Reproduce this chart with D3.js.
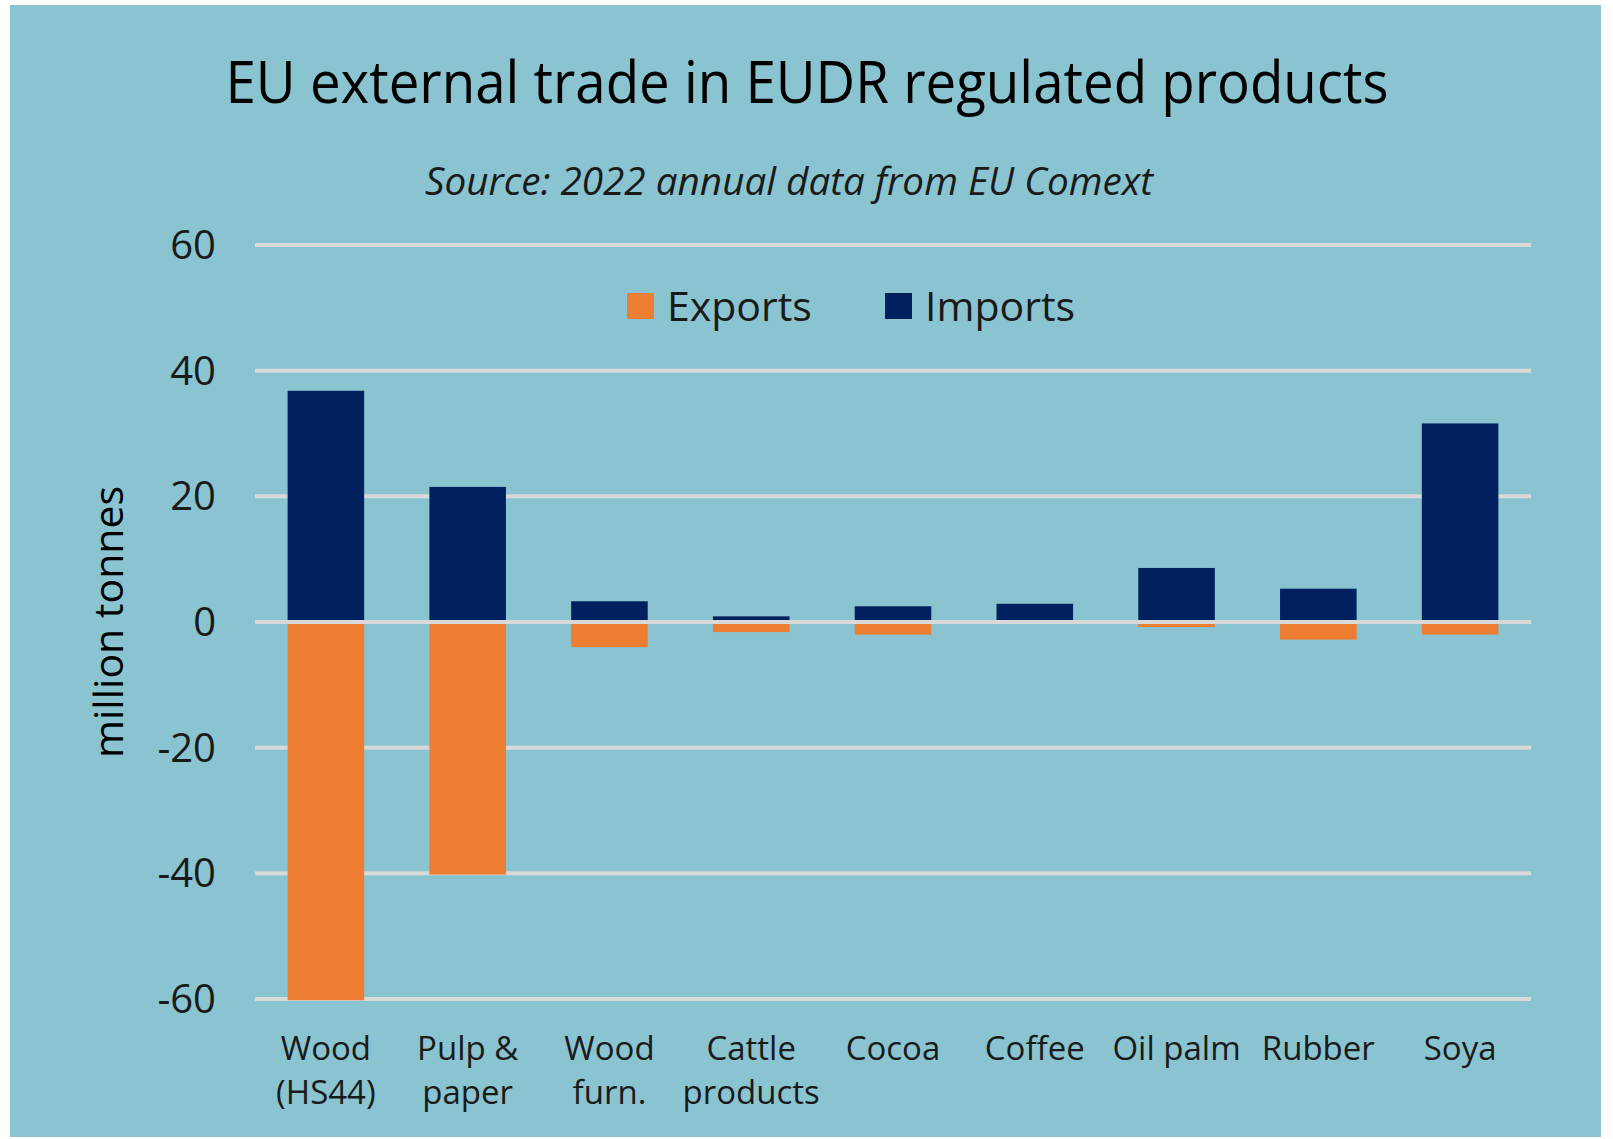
<!DOCTYPE html>
<html><head><meta charset="utf-8">
<script src="https://cdn.jsdelivr.net/npm/d3@7"></script>
<style>
html,body{margin:0;padding:0;background:#fff;}
svg{display:block;}
</style></head>
<body>
<script>
const categories = [["Wood","(HS44)"],["Pulp &","paper"],["Wood","furn."],["Cattle","products"],["Cocoa"],["Coffee"],["Oil palm"],["Rubber"],["Soya"]];
const imports = [36.8, 21.5, 3.3, 0.9, 2.5, 2.9, 8.6, 5.3, 31.6];
const exports = [-60.2, -40.2, -4.0, -1.6, -2.0, 0, -0.8, -2.8, -2.0];
const yTicks = [60, 40, 20, 0, -20, -40, -60];
const seriesNames = ["Exports", "Imports"];
const colors = {Exports: "#ED7D31", Imports: "#002060"};

const W = 1613, H = 1139;
const svg = d3.select("body").append("svg").attr("width", W).attr("height", H);
svg.append("rect").attr("x", 10).attr("y", 5).attr("width", 1591).attr("height", 1132).attr("fill", "#89C4D0");

const font = "'Open Sans', sans-serif";
const x = d3.scaleBand().domain(d3.range(categories.length)).range([255, 1531]).paddingInner(0.46).paddingOuter(0.23);
const y = d3.scaleLinear().domain([-60, 60]).range([999, 245]);

// gridlines
svg.append("g").selectAll("line").data(yTicks.filter(d => d !== 0)).join("line")
  .attr("x1", 255).attr("x2", 1531).attr("y1", d => y(d)).attr("y2", d => y(d))
  .attr("stroke", "#D9D9D9").attr("stroke-width", 4);

// bars
svg.append("g").selectAll("rect").data(imports).join("rect")
  .attr("x", (d, i) => x(i)).attr("width", x.bandwidth())
  .attr("y", d => y(d)).attr("height", d => y(0) - y(d)).attr("fill", colors.Imports);
svg.append("g").selectAll("rect").data(exports).join("rect")
  .attr("x", (d, i) => x(i)).attr("width", x.bandwidth())
  .attr("y", y(0)).attr("height", d => y(d) - y(0)).attr("fill", colors.Exports);

// zero line
svg.append("line").attr("x1", 255).attr("x2", 1531).attr("y1", y(0)).attr("y2", y(0))
  .attr("stroke", "#D9D9D9").attr("stroke-width", 4);

// y tick labels
svg.append("g").selectAll("text").data(yTicks).join("text")
  .attr("x", 216).attr("y", d => y(d)).attr("dy", "0.35em").attr("text-anchor", "end")
  .attr("font-family", font).attr("font-size", 40).attr("fill", "#1a1a1a")
  .text(d => d);

// x labels
const xl = svg.append("g").selectAll("text").data(categories).join("text")
  .attr("text-anchor", "middle").attr("font-family", font).attr("font-size", 33).attr("fill", "#1a1a1a");
xl.selectAll("tspan").data((d, i) => d.map(t => ({t, i}))).join("tspan")
  .attr("x", d => x(d.i) + x.bandwidth() / 2).attr("y", (d, j) => 1060 + j * 44).text(d => d.t);

// axis title
svg.append("text").attr("transform", "translate(123,622) rotate(-90)").attr("text-anchor", "middle")
  .attr("font-family", font).attr("font-size", 41).attr("font-weight", 500).attr("fill", "#000").text("million tonnes");

// title
svg.append("text").attr("x", 807).attr("y", 103).attr("text-anchor", "middle")
  .attr("font-family", font).attr("font-size", 58).attr("fill", "#000")
  .attr("textLength", 1163).attr("lengthAdjust", "spacingAndGlyphs")
  .text("EU external trade in EUDR regulated products");
svg.append("text").attr("x", 789).attr("y", 195).attr("text-anchor", "middle")
  .attr("font-family", font).attr("font-style", "italic").attr("font-size", 38).attr("fill", "#1a1a1a")
  .attr("textLength", 728).attr("lengthAdjust", "spacingAndGlyphs")
  .text("Source: 2022 annual data from EU Comext");

// legend
const leg = svg.append("g").selectAll("g").data(seriesNames).join("g")
  .attr("transform", (d, i) => `translate(${[627, 885][i]},293)`);
leg.append("rect").attr("width", 27).attr("height", 26).attr("fill", d => colors[d]);
leg.append("text").attr("x", 40).attr("y", 28).attr("font-family", font).attr("font-size", 41).attr("fill", "#1a1a1a").text(d => d);
</script>
</body></html>
